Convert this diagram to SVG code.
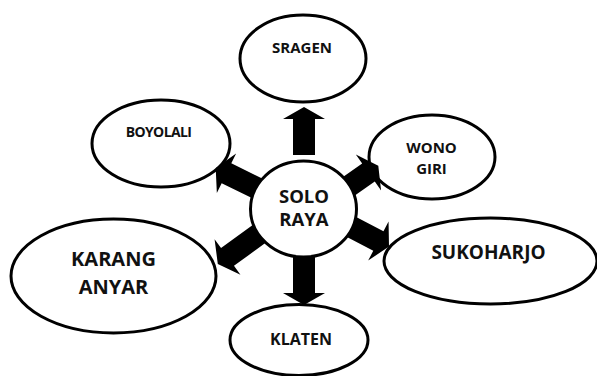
<svg xmlns="http://www.w3.org/2000/svg" width="597" height="376" viewBox="0 0 597 376">
<style>
.n{fill:#fff;stroke:#000;stroke-width:3}
.t{font-family:"Open Sans","Liberation Sans",sans-serif;font-weight:bold;fill:#111;text-anchor:middle}
.a{fill:#000;stroke:none}
</style>
<rect width="597" height="376" fill="#fff"/>
<g id="sragen"><ellipse class="n" cx="303" cy="58.5" rx="63" ry="43.5"/><text class="t" x="302" y="53" font-size="15">SRAGEN</text></g>
<g id="boyolali"><ellipse class="n" cx="161" cy="143.5" rx="69" ry="43.5"/><text class="t" x="158.5" y="137" font-size="14" letter-spacing="-0.6">BOYOLALI</text></g>
<g id="wonogiri"><ellipse class="n" cx="432" cy="157" rx="63" ry="42"/><text class="t" x="431.5" y="153" font-size="15">WONO</text><text class="t" x="431.5" y="174" font-size="15">GIRI</text></g>
<g id="karanganyar"><ellipse class="n" cx="113.5" cy="276" rx="102.5" ry="57"/><text class="t" x="113.5" y="266" font-size="20">KARANG</text><text class="t" x="113.5" y="294" font-size="20">ANYAR</text></g>
<g id="sukoharjo"><ellipse class="n" cx="490.5" cy="261" rx="106.5" ry="43"/><text class="t" x="488.5" y="259" font-size="19">SUKOHARJO</text></g>
<g id="klaten"><ellipse class="n" cx="299" cy="340" rx="69" ry="35.5"/><text class="t" x="301" y="345" font-size="16">KLATEN</text></g>
<g id="connectors">
<polygon class="a" transform="translate(304,107) rotate(-90)" points="0,0 -12,-21 -12,-11 -48,-11 -48,11 -12,11 -12,21"/>
<polygon class="a" transform="translate(304,305) rotate(90)" points="0,0 -12,-21 -12,-11 -62,-11 -62,11 -12,11 -12,21"/>
<polygon class="a" transform="translate(215.7,168) rotate(206)" points="0,0 -12,-22 -12,-11 -52,-11 -52,11 -12,11 -12,22"/>
<polygon class="a" transform="translate(217.8,264) rotate(144)" points="0,0 -12,-22 -12,-11 -52,-11 -52,11 -12,11 -12,22"/>
<polygon class="a" transform="translate(378.3,165.7) rotate(-35)" points="0,0 -12,-22 -12,-11 -52,-11 -52,11 -12,11 -12,22"/>
<polygon class="a" transform="translate(389,246.6) rotate(27.6)" points="0,0 -12,-22 -12,-11 -52,-11 -52,11 -12,11 -12,22"/>
</g>
<g id="solo"><ellipse class="n" cx="303.5" cy="209" rx="53" ry="48"/><text class="t" x="304" y="203" font-size="18.5">SOLO</text><text class="t" x="304" y="226" font-size="18.5">RAYA</text></g>
</svg>
